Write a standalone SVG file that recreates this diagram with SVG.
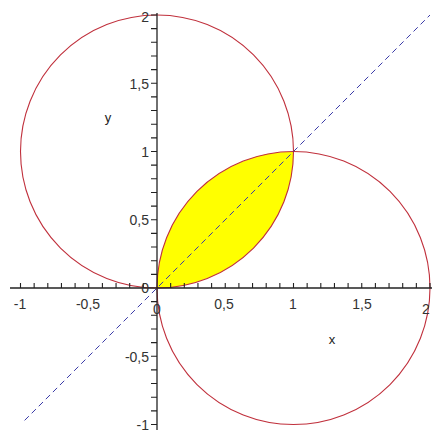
<svg xmlns="http://www.w3.org/2000/svg" width="432" height="434" viewBox="0 0 432 434">
<style>
.curve{fill:none;stroke:#c0303c;stroke-width:1.1}
.axis{fill:none;stroke:#222;stroke-width:1.3}
.tick{fill:none;stroke:#222;stroke-width:1.1}
.diag{fill:none;stroke:#3a3aa8;stroke-width:1;stroke-dasharray:6 4}
.lbl{font-family:"Liberation Sans",Arial,sans-serif;font-size:14px;fill:#333}
.name{font-family:"Liberation Sans",Arial,sans-serif;font-size:13px;fill:#222}
</style>
<rect width="432" height="434" fill="#ffffff"/>
<g id="region">
<path d="M157,288 A136.5,136.5 0 0 0 293.5,151.5 A136.5,136.5 0 0 0 157,288 Z" fill="#ffff00"/>
</g>
<g id="circles">
<circle class="curve" cx="157" cy="151.5" r="136.5"/>
<circle class="curve" cx="293.5" cy="288" r="136.5"/>
</g>
<g id="diagonal">
<line class="diag" x1="24.6" y1="420.4" x2="430" y2="15"/>
</g>
<g id="axes">
<line class="axis" x1="10" y1="288" x2="432" y2="288"/>
<line class="axis" x1="157" y1="13" x2="157" y2="430"/>
<path class="tick" d="M20.5,283V288M34.15,283V288M47.8,283V288M61.45,283V288M75.1,283V288M88.75,283V288M102.4,283V288M116.05,283V288M129.7,283V288M143.35,283V288M170.65,283V288M184.3,283V288M197.95,283V288M211.6,283V288M225.25,283V288M238.9,283V288M252.55,283V288M266.2,283V288M279.85,283V288M293.5,283V288M307.15,283V288M320.8,283V288M334.45,283V288M348.1,283V288M361.75,283V288M375.4,283V288M389.05,283V288M402.7,283V288M416.35,283V288M430,283V288"/>
<path class="tick" d="M151,15H157M151,28.65H157M151,42.3H157M151,55.95H157M151,69.6H157M151,83.25H157M151,96.9H157M151,110.55H157M151,124.2H157M151,137.85H157M151,151.5H157M151,165.15H157M151,178.8H157M151,192.45H157M151,206.1H157M151,219.75H157M151,233.4H157M151,247.05H157M151,260.7H157M151,274.35H157M151,301.65H157M151,315.3H157M151,328.95H157M151,342.6H157M151,356.25H157M151,369.9H157M151,383.55H157M151,397.2H157M151,410.85H157M151,424.5H157"/>
</g>
<g id="xlabels" class="lbl" text-anchor="middle">
<text x="20" y="309">-1</text>
<text x="88" y="309">-0,5</text>
<text x="157" y="314">0</text>
<text x="224" y="309">0,5</text>
<text x="293" y="309">1</text>
<text x="362" y="309">1,5</text>
<text x="426" y="314">2</text>
</g>
<g id="ylabels" class="lbl" text-anchor="end">
<text x="149" y="22">2</text>
<text x="149" y="89">1,5</text>
<text x="149" y="157">1</text>
<text x="149" y="225">0,5</text>
<text x="149" y="293">0</text>
<text x="149" y="362">-0,5</text>
<text x="149" y="430">-1</text>
</g>
<g id="names" class="name" text-anchor="middle">
<text x="108" y="122">y</text>
<text x="332" y="344">x</text>
</g>
</svg>
